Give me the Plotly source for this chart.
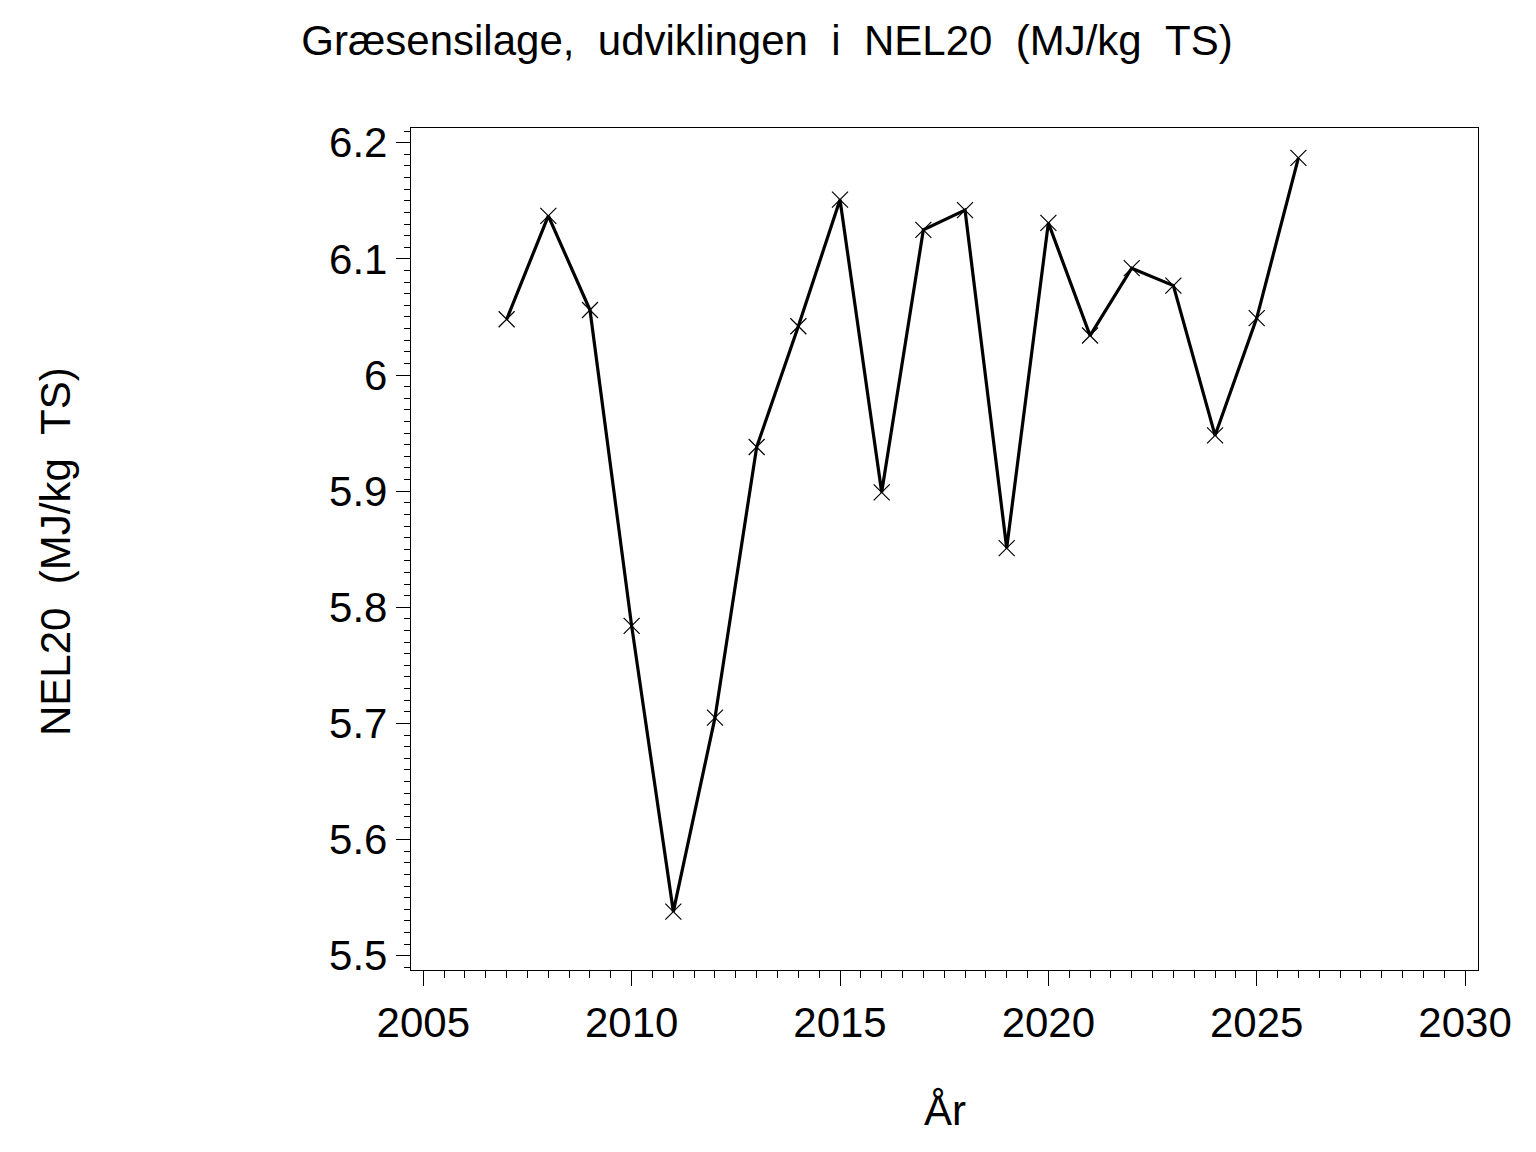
import plotly.graph_objects as go

# NEL20 for græsensilage pr. år
years = [2007, 2008, 2009, 2010, 2011, 2012, 2013, 2014, 2015, 2016,
         2017, 2018, 2019, 2020, 2021, 2022, 2023, 2024, 2025, 2026]
nel20 = [6.048, 6.137, 6.056, 5.784, 5.538, 5.705, 5.938, 6.042, 6.151, 5.899,
         6.125, 6.142, 5.851, 6.131, 6.034, 6.092, 6.077, 5.948, 6.049, 6.187]

x_ticks = [2005, 2010, 2015, 2020, 2025, 2030]
y_ticks = [5.5, 5.6, 5.7, 5.8, 5.9, 6.0, 6.1, 6.2]
y_ticktext = ["5.5", "5.6", "5.7", "5.8", "5.9", "6", "6.1", "6.2"]

FONT = "Liberation Sans, Arial, sans-serif"
SP = "\u00a0\u00a0"
OFF = 8  # body margin of the page

fig = go.Figure(go.Scatter(
    x=years, y=nel20, mode="lines+markers",
    line=dict(color="black", width=3.2),
    marker=dict(symbol="x-thin", size=16, line=dict(color="black", width=1.2)),
    showlegend=False,
))

axis_common = dict(showline=True, linecolor="black", linewidth=1.3, mirror=True,
                   ticks="outside", tickcolor="black", tickwidth=1.2,
                   showgrid=False, zeroline=False,
                   tickfont=dict(family=FONT, size=42, color="black"))

fig.update_xaxes(range=[2004.705, 2030.31], tickvals=x_ticks, ticklen=15,
                 minor=dict(dtick=0.5, ticks="outside", ticklen=7,
                            tickcolor="black", tickwidth=1.2, showgrid=False),
                 **axis_common)
fig.update_yaxes(range=[5.4877, 6.2127], tickvals=y_ticks, ticktext=y_ticktext,
                 ticklen=14,
                 minor=dict(dtick=0.01, ticks="outside", ticklen=6,
                            tickcolor="black", tickwidth=1.2, showgrid=False),
                 **axis_common)

fig.update_layout(
    width=1536, height=1152,
    margin=dict(l=411 - OFF, r=58 + OFF, t=128 - OFF, b=182 + OFF),
    paper_bgcolor="white", plot_bgcolor="white",
    font=dict(family=FONT, color="black"),
    title=dict(text=f"Græsensilage,{SP}udviklingen{SP}i{SP}NEL20{SP}(MJ/kg{SP}TS)",
               x=(767 - OFF) / 1536, xref="container",
               y=1 - (40 - OFF) / 1152, yref="container",
               xanchor="center", yanchor="middle",
               font=dict(family=FONT, size=42, color="black")),
    annotations=[
        dict(text="År", xref="paper", yref="paper", x=0.5, y=(970 - 1110) / 842,
             xanchor="center", yanchor="middle", showarrow=False,
             font=dict(family=FONT, size=42, color="black")),
        dict(text=f"NEL20{SP}(MJ/kg{SP}TS)", xref="paper", yref="paper",
             x=(55 - 411) / 1067, y=0.5 + (549 - 552) / 842, textangle=-90,
             xanchor="center", yanchor="middle", showarrow=False,
             font=dict(family=FONT, size=42, color="black")),
    ],
)

fig.write_html("out.html")
